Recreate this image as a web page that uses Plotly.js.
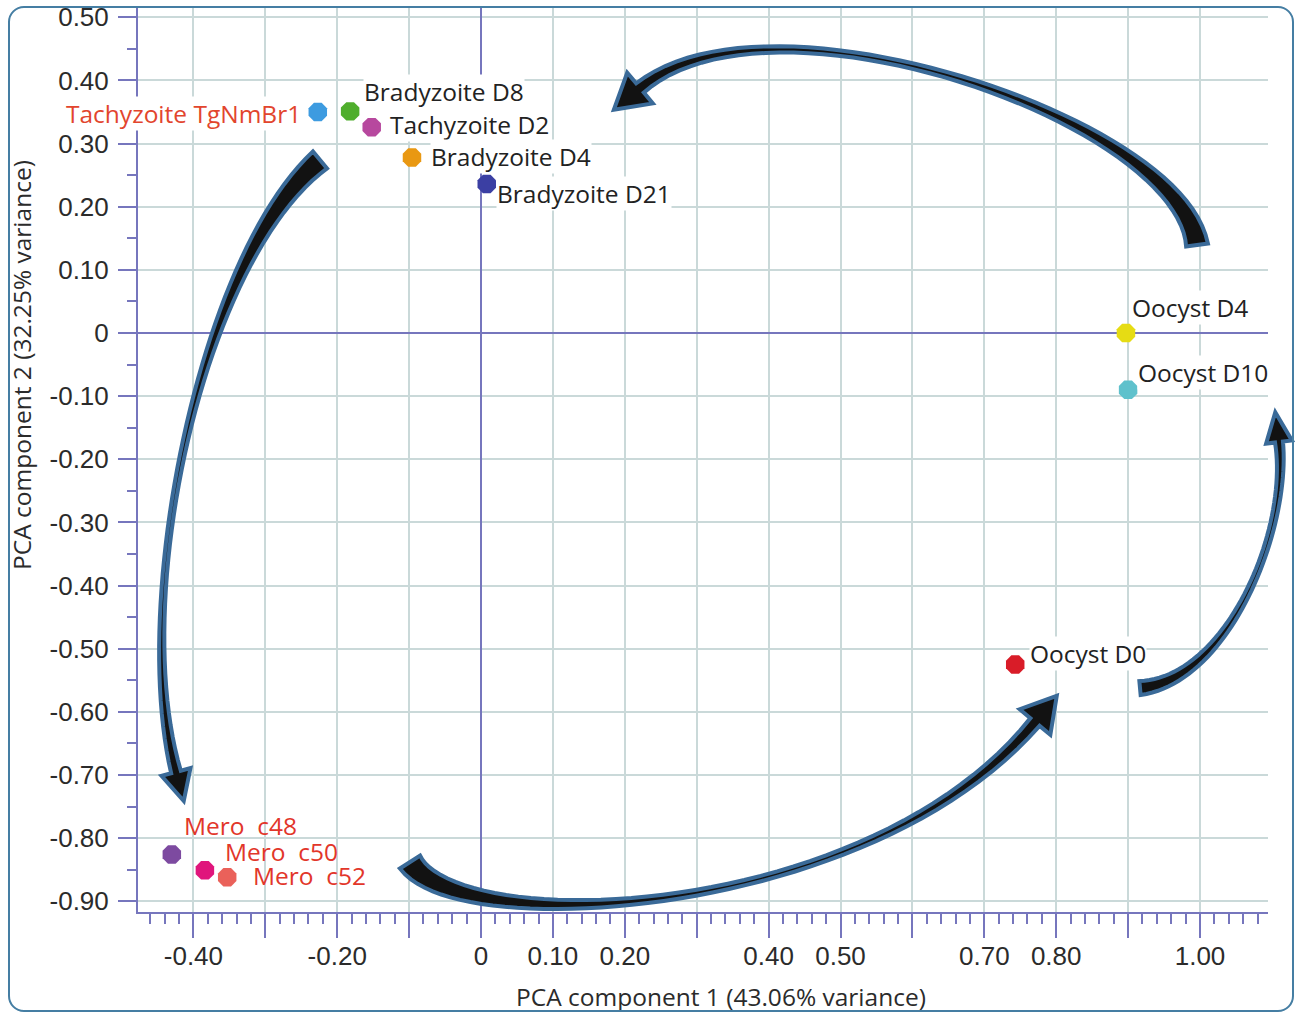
<!DOCTYPE html>
<html>
<head>
<meta charset="utf-8">
<script src="https://cdn.plot.ly/plotly-3.0.1.min.js"></script>
<style>
  html, body { margin:0; padding:0; background:#fff; overflow:hidden; }
  #chart { width:1296px; height:1013px; }
  #frame { position:absolute; left:8px; top:6px; width:1286px; height:1006px;
           box-sizing:border-box; border:2px solid #457ea3; border-radius:16px; pointer-events:none; }
</style>
</head>
<body>
<div id="chart"></div>
<div id="frame"></div>
<script>
// ---------------- data ----------------
const sampleNames = ["Tachyzoite TgNmBr1","Bradyzoite D8","Tachyzoite D2","Bradyzoite D4","Bradyzoite D21",
                     "Oocyst D4","Oocyst D10","Oocyst D0","Mero\u00a0 c48","Mero\u00a0 c50","Mero\u00a0 c52"];
const pc1 = [-0.227,-0.182,-0.152,-0.096,0.008, 0.897,0.900,0.743, -0.430,-0.384,-0.353];
const pc2 = [ 0.350, 0.351, 0.326, 0.278,0.236, 0.000,-0.090,-0.525, -0.826,-0.851,-0.862];
const markerColors = ["#3d9be0","#4fae2c","#b7489e","#e99812","#3b3fa3",
                      "#e6dc14","#5fc1cc","#d91c28","#7d4aa0","#e0157c","#ea615a"];
const labelColors  = ["#e2452d","#222","#222","#222","#222","#222","#222","#222","#e2362a","#e2362a","#e2362a"];

const xTickVals   = [-0.4,-0.3,-0.2,-0.1,0,0.1,0.2,0.3,0.4,0.5,0.6,0.7,0.8,0.9,1.0];
const xTickLabels = ["-0.40","","-0.20","","0","0.10","0.20","","0.40","0.50","","0.70","0.80","","1.00"];
const yTickVals   = [0.5,0.4,0.3,0.2,0.1,0,-0.1,-0.2,-0.3,-0.4,-0.5,-0.6,-0.7,-0.8,-0.9];
const yTickLabels = ["0.50","0.40","0.30","0.20","0.10","0","-0.10","-0.20","-0.30","-0.40","-0.50","-0.60","-0.70","-0.80","-0.90"];

const xTitle = "PCA component 1 (43.06% variance)";
const yTitle = "PCA component 2 (32.25% variance)";

// ---------------- styling / layout config ----------------
const M = {l:138, r:28, t:8, b:101};
const FW = 1296, FH = 1013;
const PW = FW - M.l - M.r, PH = FH - M.t - M.b;
const axisColor = "#7676bd";
const gridColor = "#cad9d9";
const tickFont = {family:"Liberation Sans, Arial, sans-serif", size:26, color:"#2b2b2b"};
const labelFont = "Open Sans, Noto Sans, sans-serif";

// label placement: [xanchor, xshift, yshift, white box?]
const labelPos = [["right",-16,-1,1],["left",13,20,1],["left",17,3,1],["left",18,1,1],["left",9,-10,1],
                  ["left",5,26,1],["left",9,17,1],["left",14,11,1],["left",11,29,0],["left",19,19,0],["left",25,2,0]];

// decorative curved arrows (figure pixel coordinates): cubic control points, widths, head
const arrows = [
  {P:[[1197,245],[1180,120],[770,-20],[640,88]], w:[22,6,12], hl:34, hh:20},
  {P:[[320,160],[200,260],[130,600],[176,772]], w:[22,5,10], hl:30, hh:15},
  {P:[[410,862],[460,940],[870,920],[1035,722]], w:[24,6,12], hl:34, hh:20},
  {P:[[1140,688],[1228,680],[1290,530],[1279,442]], w:[14,5,8], hl:30, hh:13}
];

function toPaper(p){ return [(p[0]-M.l)/PW, 1-(p[1]-M.t)/PH]; }
function bez(P,t){ const u=1-t; return [0,1].map(k=>u*u*u*P[0][k]+3*u*u*t*P[1][k]+3*u*t*t*P[2][k]+t*t*t*P[3][k]); }
function dbez(P,t){ const u=1-t; return [0,1].map(k=>3*u*u*(P[1][k]-P[0][k])+6*u*t*(P[2][k]-P[1][k])+3*t*t*(P[3][k]-P[2][k])); }
function arrowPath(a){
  const N=48, left=[], right=[];
  const wf = t => a.w[0]*2*(t-0.5)*(t-1) + a.w[1]*(-4)*t*(t-1) + a.w[2]*2*t*(t-0.5);
  for(let i=0;i<=N;i++){
    const t=i/N, b=bez(a.P,t), d=dbez(a.P,t), L=Math.hypot(d[0],d[1]);
    const n=[-d[1]/L, d[0]/L], h=wf(t)/2;
    left.push([b[0]+n[0]*h, b[1]+n[1]*h]); right.push([b[0]-n[0]*h, b[1]-n[1]*h]);
  }
  const d=dbez(a.P,1), L=Math.hypot(d[0],d[1]), u=[d[0]/L,d[1]/L], n=[-u[1],u[0]], e=a.P[3];
  const pts = left.concat([[e[0]+n[0]*a.hh, e[1]+n[1]*a.hh],[e[0]+u[0]*a.hl, e[1]+u[1]*a.hl],[e[0]-n[0]*a.hh, e[1]-n[1]*a.hh]], right.reverse());
  return pts.map((p,i)=>{ const q=toPaper(p); return (i?"L":"M")+q[0].toFixed(5)+","+q[1].toFixed(5); }).join("")+"Z";
}

// axis ranges matching the reference pixel geometry
const xPerUnit = 719, x0px = 481, yPerUnit = 631.4, y0px = 333;
const xRange = [(M.l - x0px)/xPerUnit, (FW - M.r - x0px)/xPerUnit];
const yRange = [-(FH - M.b - y0px)/yPerUnit, (y0px - M.t)/yPerUnit];

const trace = {
  type:"scatter", mode:"markers", x:pc1, y:pc2, text:sampleNames, hoverinfo:"text",
  marker:{symbol:"octagon", size:20, color:markerColors, line:{width:0}}, showlegend:false, cliponaxis:false
};

const annotations = sampleNames.map((nm,i)=>({
  x:pc1[i], y:pc2[i], xref:"x", yref:"y", text:nm, showarrow:false,
  xanchor:labelPos[i][0], yanchor:"middle", xshift:labelPos[i][1], yshift:labelPos[i][2],
  font:{family:labelFont, size:24.5, color:labelColors[i]},
  bgcolor: labelPos[i][3] ? "#ffffff" : "rgba(0,0,0,0)", borderpad:0
}));
annotations.push({xref:"paper", yref:"paper", x:(721-M.l)/PW, y:-(996-(FH-M.b))/PH, text:xTitle, showarrow:false,
  xanchor:"center", yanchor:"middle", font:{family:labelFont, size:24.5, color:"#2b2b2b"}});
annotations.push({xref:"paper", yref:"paper", x:(21-M.l)/PW, y:1-(365-M.t)/PH, text:yTitle, showarrow:false, textangle:-90,
  xanchor:"center", yanchor:"middle", font:{family:labelFont, size:24.5, color:"#2b2b2b"}});

const shapes = arrows.map(a=>({type:"path", xref:"paper", yref:"paper", path:arrowPath(a),
  fillcolor:"#121212", line:{color:"#3a6a98", width:4}, layer:"above"}));

const layout = {
  width:FW, height:FH, margin:M, paper_bgcolor:"#fff", plot_bgcolor:"#fff", showlegend:false,
  xaxis:{range:xRange, tickmode:"array", tickvals:xTickVals, ticktext:xTickLabels,
         showgrid:true, gridcolor:gridColor, gridwidth:2,
         zeroline:true, zerolinecolor:axisColor, zerolinewidth:2,
         showline:true, linecolor:axisColor, linewidth:2, mirror:false,
         ticks:"outside", ticklen:24, tickwidth:2, tickcolor:axisColor, tickfont:tickFont, ticklabelstandoff:-4,
         minor:{tickmode:"linear", tick0:0, dtick:0.02, ticks:"outside", ticklen:10, tickwidth:2, tickcolor:axisColor, showgrid:false},
         fixedrange:true},
  yaxis:{range:yRange, tickmode:"array", tickvals:yTickVals, ticktext:yTickLabels,
         showgrid:true, gridcolor:gridColor, gridwidth:2,
         zeroline:true, zerolinecolor:axisColor, zerolinewidth:2,
         showline:true, linecolor:axisColor, linewidth:2, mirror:false,
         ticks:"outside", ticklen:18, tickwidth:2, tickcolor:axisColor, tickfont:tickFont, ticklabelstandoff:4,
         minor:{tickmode:"linear", tick0:0, dtick:0.05, ticks:"outside", ticklen:9, tickwidth:2, tickcolor:axisColor, showgrid:false},
         fixedrange:true},
  annotations:annotations, shapes:shapes
};

Plotly.newPlot("chart", [trace], layout, {staticPlot:true, displayModeBar:false});
</script>
</body>
</html>
